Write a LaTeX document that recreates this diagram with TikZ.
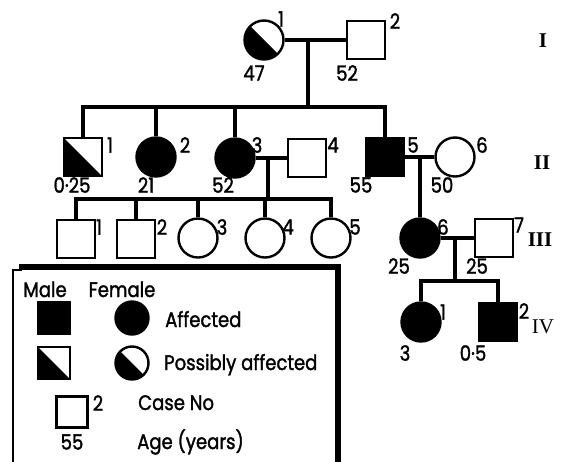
\documentclass[tikz,border=0pt]{standalone}
\usepackage{fontspec}
\setmainfont{Poppins}[FakeStretch=0.86, FakeBold=1.5]
\newfontfamily\romfont{Liberation Serif}
\begin{document}
\begin{tikzpicture}[x=1pt,y=-1pt,
  sym/.style={draw, line width=2.4pt, inner sep=0pt},
  sq/.style={sym, rectangle, minimum size=38pt},
  ci/.style={sym, circle, minimum size=39pt},
  aff/.style={fill=black},
  half/.style={path picture={\fill[black] (path picture bounding box.north west) -- (path picture bounding box.south west) -- (path picture bounding box.south east) -- cycle;}},
  ln/.style={line width=3.2pt},
  num/.style={inner sep=0pt, font=\fontsize{21}{21}\selectfont},
  gen/.style={inner sep=0pt, font=\romfont\bfseries\fontsize{21}{21}\selectfont},
  genl/.style={inner sep=0pt, font=\romfont\fontsize{21}{21}\selectfont},
  lg/.style={inner sep=0pt, anchor=base west, font=\fontsize{21}{21}\selectfont},
]
\useasboundingbox (0,0) rectangle (561,461);

% Generation I
\node[ci, half] (I1) at (264,40) {};
\node[sq] (I2) at (366,40) {};
\node[num] (nI1) at (281,19) {1};
\node[num] (nI2) at (395,21) {2};
\node[num] (aI1) at (254,73) {47};
\node[num] (aI2) at (347,73) {52};
\draw[ln] (I1.east) -- (I2.west);
\coordinate (m1) at (308,40);
\coordinate (s1) at (308,107);
\draw[ln] (m1) -- (s1);

% Generation II
\node[sq, half] (II1) at (83,157) {};
\node[ci, aff] (II2) at (156,157) {};
\node[ci, aff] (II3) at (235,158) {};
\node[sq] (II4) at (307,158) {};
\node[sq, aff] (II5) at (385,157) {};
\node[ci] (II6) at (455,157) {};
\draw[ln, line join=miter] (II1.north) -- (II1.north |- s1) -- (II5.north |- s1) -- (II5.north);
\draw[ln] (II2.north |- s1) -- (II2.north);
\draw[ln] (II3.north |- s1) -- (II3.north);
\draw[ln] (II3.east) -- (II4.west);
\draw[ln] (II5.east) -- (II6.west);
\node[num] (nII1) at (110,145) {1};
\node[num] (nII2) at (185,145) {2};
\node[num] (nII3) at (257,145) {3};
\node[num] (nII4) at (333,145) {4};
\node[num] (nII5) at (413,145) {5};
\node[num] (nII6) at (482,145) {6};
\node[num] (aII1) at (72,185) {0·25};
\node[num] (aII2) at (146,185) {21};
\node[num] (aII3) at (223,185) {52};
\node[num] (aII5) at (361,185) {55};
\node[num] (aII6) at (442,185) {50};
\coordinate (m2) at (268,158);
\coordinate (s2) at (268,199);
\draw[ln] (m2) -- (s2);
\coordinate (m3) at (420,157);

% Generation III
\node[sq] (III1) at (76,239) {};
\node[sq] (III2) at (136,239) {};
\node[ci] (III3) at (198,238) {};
\node[ci] (III4) at (265,238) {};
\node[ci] (III5) at (331,238) {};
\node[ci, aff] (III6) at (420,238) {};
\node[sq] (III7) at (494,238) {};
\draw[ln, line join=miter] (III1.north) -- (III1.north |- s2) -- (III5.north |- s2) -- (III5.north);
\draw[ln] (III2.north |- s2) -- (III2.north);
\draw[ln] (III3.north |- s2) -- (III3.north);
\draw[ln] (III4.north |- s2) -- (III4.north);
\draw[ln] (m3) -- (III6.north);
\draw[ln] (III6.east) -- (III7.west);
\node[num] (nIII1) at (99,227) {1};
\node[num] (nIII2) at (162,227) {2};
\node[num] (nIII3) at (222,227) {3};
\node[num] (nIII4) at (288,227) {4};
\node[num] (nIII5) at (355,227) {5};
\node[num] (nIII6) at (443,227) {6};
\node[num] (nIII7) at (519,225) {7};
\node[num] (aIII6) at (399,266) {25};
\node[num] (aIII7) at (477,266) {25};
\coordinate (m4) at (455,238);
\coordinate (s4) at (455,281);
\draw[ln] (m4) -- (s4);

% Generation IV
\node[ci, aff] (IV1) at (421,322) {};
\node[sq, aff] (IV2) at (498,322) {};
\draw[ln, line join=miter] (IV1.north) -- (IV1.north |- s4) -- (IV2.north |- s4) -- (IV2.north);
\node[num] (nIV1) at (443,312) {1};
\node[num] (nIV2) at (524,311) {2};
\node[num] (aIV1) at (405,353) {3};
\node[num] (aIV2) at (473,353) {0·5};

% Generation labels
\node[gen] (gI) at (543,41) {I};
\node[gen] (gII) at (542,163) {II};
\node[gen] (gIII) at (540,240) {III};
\node[genl] (gIV) at (543,327) {IV};

% Legend
\draw[line width=1.8pt] (13,470) -- (13,270) -- (22,270);
\draw[line width=6pt] (19,266.5) -- (338,266.5) -- (338,470);
\node[lg, anchor=base] (lmale) at (45,297) {Male};
\node[lg, anchor=base] (lfem) at (122,297) {Female};
\node[sym, rectangle, minimum size=32pt, aff] (lsqa) at (54,318) {};
\node[sym, circle, minimum size=33pt, aff] (lcia) at (132,318) {};
\node[lg] (laff) at (165,327) {Affected};
\node[sym, rectangle, minimum size=32pt, half] (lsqp) at (54,363) {};
\node[sym, circle, minimum size=33pt, half] (lcip) at (132,363) {};
\node[lg] (lpos) at (164,370) {Possibly affected};
\node[sym, rectangle, minimum size=31pt] (lsqc) at (72,412) {};
\node[num] (lc2) at (98,403) {2};
\node[num] (lc55) at (72,442) {55};
\node[lg] (lcase) at (138,410) {Case No};
\node[lg] (lage) at (137,449) {Age (years)};
\end{tikzpicture}
\end{document}
